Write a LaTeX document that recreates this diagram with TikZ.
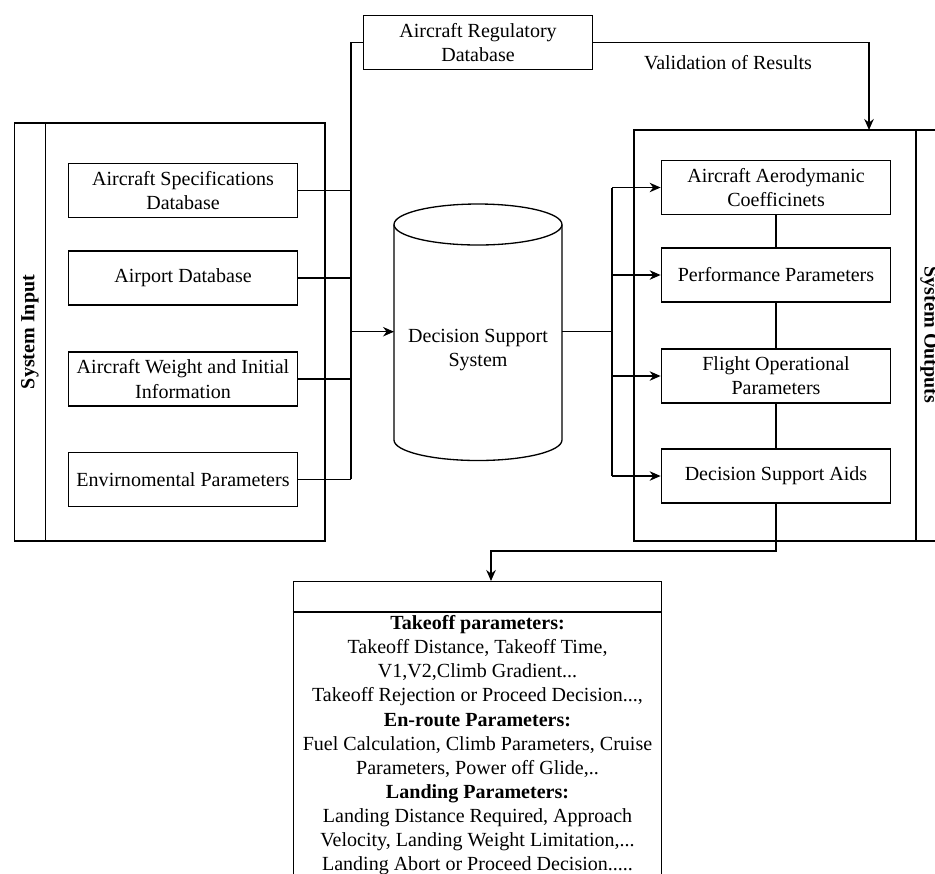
\documentclass[tikz,border=0pt]{standalone}
\usepackage{fontspec}
\setmainfont{Liberation Serif}
\usetikzlibrary{arrows.meta}

\begin{document}
\begin{tikzpicture}[x=0.02cm,y=-0.02cm,line width=.75pt,
	>={Stealth[length=2.2mm,width=1.9mm]},
	every node/.style={font=\fontsize{11.4}{13.7}\selectfont},
	box/.style={draw,minimum width=4.59cm,minimum height=1.08cm,align=center,inner sep=0pt},
	title/.style={font=\fontsize{11.4}{13.7}\selectfont\bfseries}]
	% Page size of the reference
	\useasboundingbox (0,0) rectangle (935,873);
	\clip (0,0) rectangle (935,873);

	% Input panel
	\draw (14.3,123) rectangle (325,541);
	\draw (45.7,123) -- (45.7,541);
	\node[title,rotate=90] (inTitle) at (30,332) {System Input};

	% Output panel (runs off the right edge)
	\draw (634,130) rectangle (980,541);
	\draw (916,130) -- (916,541);
	\node[title,rotate=-90] (outTitle) at (929,335) {System Outputs};
	\coordinate (outTop) at (869,130);

	% Input boxes
	\node[box] (spec) at (183,190.5) {Aircraft Specifications\\Database};
	\node[box] (apt) at (183,278) {Airport Database};
	\node[box] (wgt) at (183,379) {Aircraft Weight and Initial\\Information};
	\node[box] (envr) at (183,479.3) {Envirnomental Parameters};

	% Regulatory database
	\node[box] (reg) at (478,42.3) {Aircraft Regulatory\\Database};

	% Output boxes
	\node[box] (aero) at (776,187.5) {Aircraft Aerodymanic\\Coefficinets};
	\node[box] (perf) at (776,275) {Performance Parameters};
	\node[box] (flt) at (776,376) {Flight Operational\\Parameters};
	\node[box] (aids) at (776,476) {Decision Support Aids};

	% Decision support system (cylinder)
	\coordinate (dssW) at (394,331.7);
	\coordinate (dssE) at (562,331.7);
	\draw (394,224.5) arc[start angle=180,end angle=540,x radius=1.68cm,y radius=0.41cm];
	\draw (394,224.5) -- (394,440) arc[start angle=180,end angle=360,x radius=1.68cm,y radius=0.41cm] -- (562,224.5);
	\node[align=center] (dss) at (478,350) {Decision Support\\System};

	% Input bus
	\coordinate (busL) at (351,42.3);
	\coordinate (busLend) at (351,479.3);
	\draw (reg.west) -- (busL) -- (busLend);
	\draw (spec.east) -- (spec.east -| busL);
	\draw (apt.east) -- (apt.east -| busL);
	\draw (wgt.east) -- (wgt.east -| busL);
	\draw (envr.east) -- (envr.east -| busL);
	\draw[->] (dssW -| busL) -- (dssW);

	% Output bus
	\coordinate (busR) at (612,188);
	\coordinate (busRend) at (612,476);
	\draw (dssE) -- (dssE -| busR);
	\draw (busR) -- (busRend);
	\draw[->] (busR |- aero.west) -- (aero.west);
	\draw[->] (busR |- perf.west) -- (perf.west);
	\draw[->] (busR |- flt.west) -- (flt.west);
	\draw[->] (busR |- aids.west) -- (aids.west);

	% Links between output boxes
	\draw (aero.south) -- (perf.north);
	\draw (perf.south) -- (flt.north);
	\draw (flt.south) -- (aids.north);

	% Validation of results
	\draw[->] (reg.east) -| (outTop);
	\node (valid) at (728,63) {Validation of Results};

	% Result box (runs off the bottom edge)
	\node[draw,minimum width=7.37cm,minimum height=7cm,anchor=north] (res) at (477.5,581) {};
	\draw ([yshift=-0.62cm]res.north west) -- ([yshift=-0.62cm]res.north east);
	\node[align=center,anchor=north,inner sep=0pt] (resText) at (477.5,615) {%
		\textbf{Takeoff parameters:}\\
		Takeoff Distance, Takeoff Time,\\
		V1,V2,Climb Gradient...\\
		Takeoff Rejection or Proceed Decision...,\\
		\textbf{En-route Parameters:}\\
		Fuel Calculation, Climb Parameters, Cruise\\
		Parameters, Power off Glide,..\\
		\textbf{Landing Parameters:}\\
		Landing Distance Required, Approach\\
		Velocity, Landing Weight Limitation,...\\
		Landing Abort or Proceed Decision.....};
	\coordinate (knee) at (491,551);
	\coordinate (resIn) at (491,581);
	\draw[->] (aids.south) |- (knee) -- (resIn);
\end{tikzpicture}
\end{document}
